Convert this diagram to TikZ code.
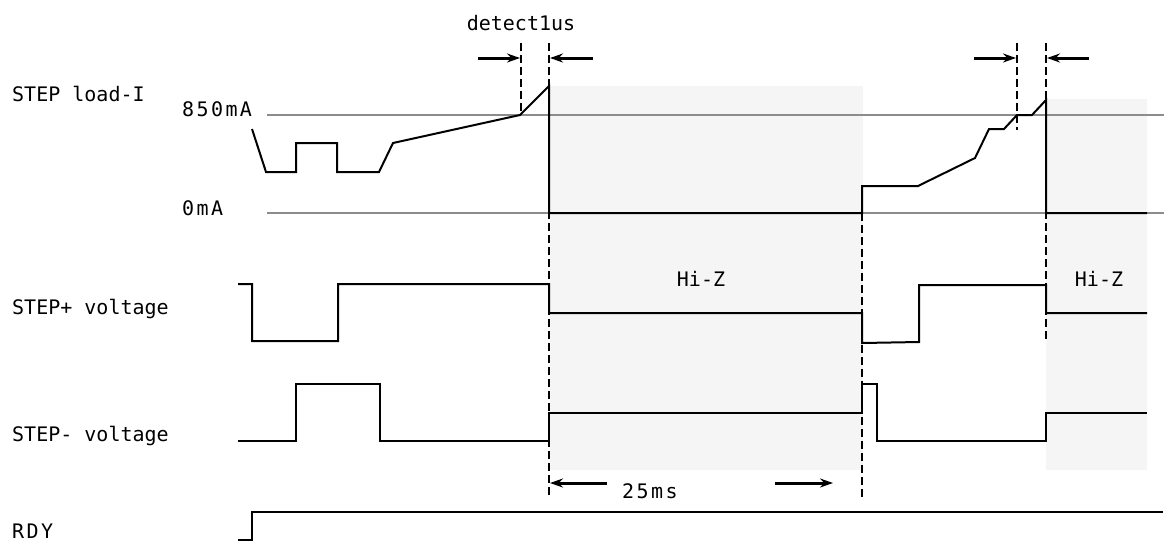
\documentclass[tikz,border=0pt]{standalone}
\usepackage{fontspec}
\setmonofont{DejaVu Sans Mono}
\newfontfamily\widemono[LetterSpace=12]{DejaVu Sans Mono}
\usetikzlibrary{arrows.meta}
\tikzset{
  lbl/.style={inner sep=0pt, font=\ttfamily\fontsize{20}{24}\selectfont},
  wlbl/.style={inner sep=0pt, font=\widemono\fontsize{20}{24}\selectfont},
  wave/.style={line width=2pt, line join=miter},
  ref/.style={draw=black!45, line width=1.1pt},
  guide/.style={line width=1.2pt, dash pattern=on 8pt off 4pt},
  dim/.style={line width=3pt, -{Stealth[length=13pt,width=9pt]}},
  hiz/.style={fill=black!4, draw=none}
}
\begin{document}
\begin{tikzpicture}[x=1pt,y=-1pt]
\useasboundingbox (0,0) rectangle (1164,542);
% shaded Hi-Z regions
\fill[hiz] (550,86) rectangle (863,470);
\fill[hiz] (1046,99) rectangle (1147,470);
% reference levels
\draw[ref] (267,115) -- (1164,115);
\draw[ref] (267,213) -- (1164,213);
% labels
\node[lbl, anchor=base west] (lI) at (12,101) {STEP load-I};
\node[wlbl, anchor=base west] (l850) at (182,116) {850mA};
\node[wlbl, anchor=base west] (l0) at (182,215) {0mA};
\node[lbl, anchor=base west] (lsp) at (12,314) {STEP+ voltage};
\node[lbl, anchor=base west] (lsm) at (12,441) {STEP- voltage};
\node[wlbl, anchor=base west] (lrdy) at (12,538) {RDY};
\node[lbl, anchor=base] (det) at (521,30) {detect1us};
\node[lbl, anchor=base] (hz1) at (701,286) {Hi-Z};
\node[lbl, anchor=base] (hz2) at (1099,286) {Hi-Z};
\node[wlbl, anchor=base west] (t25) at (622,498) {25ms};
% dashed guides
\draw[guide] (521,43) -- (521,115);
\draw[guide] (549,43) -- (549,498);
\draw[guide] (862,213) -- (862,498);
\draw[guide] (1017,43) -- (1017,130);
\draw[guide] (1046,43) -- (1046,342);
% dimension arrows
\coordinate (a1) at (478,58); \coordinate (a1e) at (520,58);
\coordinate (a2) at (593,58); \coordinate (a2e) at (550,58);
\coordinate (a3) at (974,58); \coordinate (a3e) at (1016,58);
\coordinate (a4) at (1089,58); \coordinate (a4e) at (1047,58);
\coordinate (a5) at (607,483); \coordinate (a5e) at (550,483);
\coordinate (a6) at (775,483); \coordinate (a6e) at (833,483);
\draw[dim] (a1) -- (a1e);
\draw[dim] (a2) -- (a2e);
\draw[dim] (a3) -- (a3e);
\draw[dim] (a4) -- (a4e);
\draw[dim] (a5) -- (a5e);
\draw[dim] (a6) -- (a6e);
% STEP load current
\draw[wave] (252,129) -- (266,172) -- (296,172) -- (296,143) -- (337,143) -- (337,172)
  -- (379,172) -- (393,143) -- (520,115) -- (549,86) -- (549,213) -- (862,213)
  -- (862,186) -- (918,186) -- (975,158) -- (989,129) -- (1004,129) -- (1017,115)
  -- (1032,115) -- (1046,100) -- (1046,213) -- (1147,213);
% STEP+ voltage
\draw[wave] (238,284) -- (252,284) -- (252,341) -- (338,341) -- (338,284) -- (549,284)
  -- (549,313) -- (862,313) -- (862,343) -- (919,342) -- (919,285) -- (1046,285)
  -- (1046,313) -- (1147,313);
% STEP- voltage
\draw[wave] (238,441) -- (296,441) -- (296,384) -- (380,384) -- (380,441) -- (549,441)
  -- (549,413) -- (862,413) -- (862,384) -- (877,384) -- (877,441) -- (1046,441)
  -- (1046,413) -- (1147,413);
% RDY
\draw[wave] (238,540) -- (252,540) -- (252,512) -- (1163,512);
\end{tikzpicture}
\end{document}
